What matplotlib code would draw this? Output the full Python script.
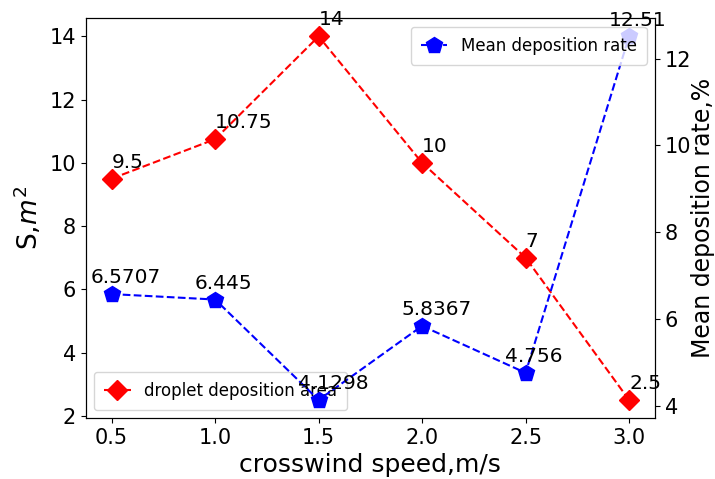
import matplotlib
matplotlib.use("Agg")
import matplotlib.pyplot as plt

speed = [0.5, 1.0, 1.5, 2.0, 2.5, 3.0]
area = [9.5, 10.75, 14, 10, 7, 2.5]
area_labels = ["9.5", "10.75", "14", "10", "7", "2.5"]
rate = [6.5707, 6.445, 4.1298, 5.8367, 4.756, 12.51]
rate_labels = ["6.5707", "6.445", "4.1298", "5.8367", "4.756", "12.51"]

fig = plt.figure(figsize=(7.15, 4.79), dpi=100)
ax1 = fig.add_axes([0.120, 0.127, 0.796, 0.835])
ax2 = ax1.twinx()

ax1.plot(speed, area, 'r--', marker='D', markersize=10, label='droplet deposition area')
for x, y, s in zip(speed, area, area_labels):
    ax1.text(x, y + 0.35, s, fontsize=14.5, ha='left', va='baseline')

ax2.plot(speed, rate, 'b--', marker='p', markersize=12, label='Mean deposition rate')
for x, y, s in zip(speed, rate, rate_labels):
    ax2.text(x - 0.1, y + 0.25, s, fontsize=14.5, ha='left', va='baseline')

ax1.set_xlabel('crosswind speed,m/s', fontsize=18)
ax1.set_ylabel('S,$m^2$', fontsize=19)
ax2.set_ylabel('Mean deposition rate,%', fontsize=17, labelpad=0)
ax1.tick_params(labelsize=15)
ax2.tick_params(labelsize=15)
ax1.set_xticks(speed)

ax1.legend(loc='lower left', fontsize=12, handlelength=1.6, borderpad=0.6)
ax2.legend(loc='upper right', fontsize=12, handlelength=1.6, borderpad=0.6)

fig.savefig('out.png', dpi=100)
